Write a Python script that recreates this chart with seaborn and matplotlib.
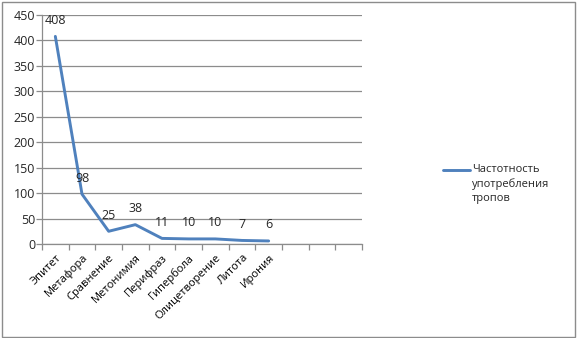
import pandas as pd
import matplotlib
matplotlib.use("Agg")
from matplotlib import pyplot as plt
import seaborn as sns

# Data
tropes = ["Эпитет", "Метафора", "Сравнение", "Метонимия", "Перифраз",
          "Гипербола", "Олицетворение", "Литота", "Ирония"]
counts = [408, 98, 25, 38, 11, 10, 10, 7, 6]
series_name = "Частотность\nупотребления\nтропов"
n_slots = 12  # the category axis has three empty slots at the end
y_ticks = [0, 50, 100, 150, 200, 250, 300, 350, 400, 450]

sns.set_style("white")
plt.rcParams["font.family"] = ["Open Sans", "DejaVu Sans"]

df = pd.DataFrame({"trope": tropes, "count": counts})
df["pos"] = range(len(df))

fig = plt.figure(figsize=(5.78, 3.38), dpi=100)
ax = fig.add_axes([42 / 578, 1 - 244 / 338, 320 / 578, 229 / 338])

sns.lineplot(data=df, x="pos", y="count", ax=ax, color="#4F81BD",
             linewidth=2.1, legend=False)

ax.set_xlim(-0.5, n_slots - 0.5)
ax.set_ylim(0, 450)
ax.set_yticks(y_ticks)
ax.yaxis.grid(True, color="#8C8C8C", linewidth=0.9)
ax.set_axisbelow(True)

# category boundaries as major ticks, names as minor ticks
ax.set_xticks([i - 0.5 for i in range(n_slots + 1)])
ax.set_xticklabels([])
ax.set_xticks(list(df["pos"]), minor=True)
ax.set_xticklabels(tropes, minor=True, rotation=45, ha="right",
                   rotation_mode="anchor", fontsize=8, color="#000000")
ax.tick_params(axis="x", which="major", direction="out", length=4,
               color="#8C8C8C", width=0.9, bottom=True)
ax.tick_params(axis="x", which="minor", length=0, pad=6, bottom=True)
ax.tick_params(axis="y", direction="out", length=4, color="#8C8C8C",
               width=0.9, labelsize=9, left=True, pad=1)

ax.set_xlabel("")
ax.set_ylabel("")
for side in ["top", "right"]:
    ax.spines[side].set_visible(False)
for side in ["left", "bottom"]:
    ax.spines[side].set_color("#8C8C8C")
    ax.spines[side].set_linewidth(0.9)

# data labels
for p, c in zip(df["pos"], df["count"]):
    ax.annotate(str(c), (p, c), xytext=(0, 11.5), textcoords="offset points",
                ha="center", va="center", fontsize=9, clip_on=False)

# legend drawn to the right
fig.lines.append(plt.Line2D([443 / 578, 470 / 578], [1 - 170 / 338, 1 - 170 / 338],
                            transform=fig.transFigure, color="#4F81BD", linewidth=2.1))
fig.text(472 / 578, 1 - 164 / 338, series_name, ha="left", va="top",
         fontsize=8, linespacing=1.35)

# outer border
fig.patches.append(plt.Rectangle((0.003, 0.004), 0.992, 0.99, transform=fig.transFigure,
                                 fill=False, edgecolor="#8C8C8C", linewidth=1.0))

fig.savefig("out.png", dpi=100)
